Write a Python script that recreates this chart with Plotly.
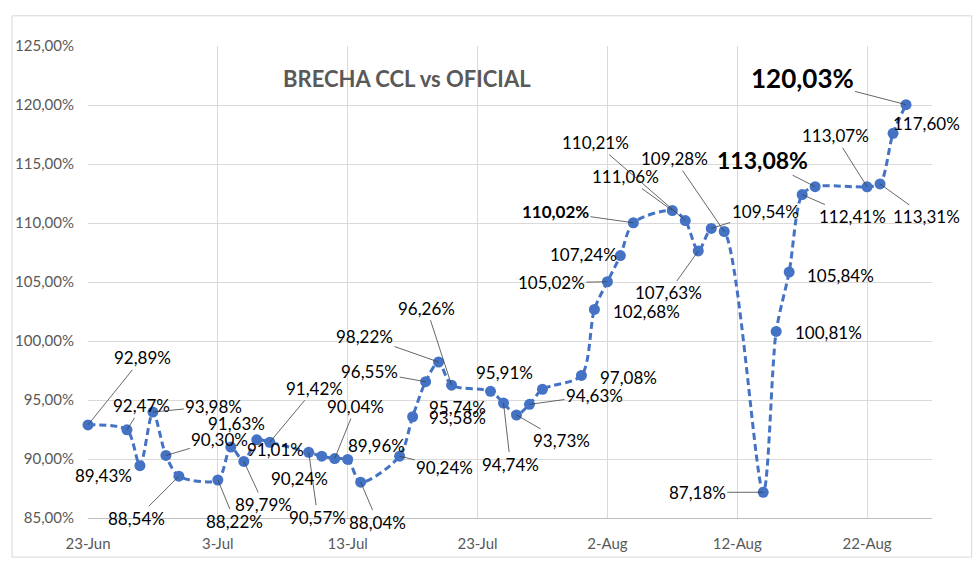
import plotly.graph_objects as go

# Brecha CCL vs oficial (2023), dias habiles
fechas = [
    "2023-06-23", "2023-06-26", "2023-06-27", "2023-06-28", "2023-06-29", "2023-06-30",
    "2023-07-03", "2023-07-04", "2023-07-05", "2023-07-06", "2023-07-07",
    "2023-07-10", "2023-07-11", "2023-07-12", "2023-07-13", "2023-07-14",
    "2023-07-17", "2023-07-18", "2023-07-19", "2023-07-20", "2023-07-21",
    "2023-07-24", "2023-07-25", "2023-07-26", "2023-07-27", "2023-07-28",
    "2023-07-31", "2023-08-01", "2023-08-02", "2023-08-03", "2023-08-04",
    "2023-08-07", "2023-08-08", "2023-08-09", "2023-08-10", "2023-08-11",
    "2023-08-14", "2023-08-15", "2023-08-16", "2023-08-17", "2023-08-18",
    "2023-08-22", "2023-08-23", "2023-08-24", "2023-08-25",
]
brecha = [
    92.89, 92.47, 89.43, 93.98, 90.30, 88.54,
    88.22, 91.01, 89.79, 91.63, 91.42,
    90.57, 90.24, 90.04, 89.96, 88.04,
    90.24, 93.58, 96.55, 98.22, 96.26,
    95.74, 94.74, 93.73, 94.63, 95.91,
    97.08, 102.68, 105.02, 107.24, 110.02,
    111.06, 110.21, 107.63, 109.54, 109.28,
    87.18, 100.81, 105.84, 112.41, 113.08,
    113.07, 113.31, 117.60, 120.03,
]

y_ticks = [85, 90, 95, 100, 105, 110, 115, 120, 125]
y_ticktext = [f"{t:.2f}".replace(".", ",") + "%" for t in y_ticks]

# posicion de cada etiqueta respecto del punto (px) y si lleva linea guia
offsets = [
    (54, -67, 1), (15, -24, 1), (-36, 10, 0), (61, -6, 1), (54, -16, 1), (-42, 42, 1),
    (17, 41, 1), (45, 2, 0), (20, 43, 1), (-20, -16, 0), (45, -54, 1),
    (9, 65, 1), (-22, 22, 0), (21, -52, 1), (29, -14, 0), (17, 40, 1),
    (45, 11, 1), (45, 1, 0), (-56, -10, 1), (-74, -26, 1), (-25, -77, 1),
    (-33, 16, 0), (7, 61, 1), (45, 26, 1), (65, -9, 1), (-38, -17, 0),
    (47, 2, 0), (52, 2, 0), (-56, 1, 1), (-37, -1, 0), (-78, -11, 1),
    (-47, -34, 1), (-90, -78, 1), (-30, 42, 1), (54, -17, 1), (-50, -73, 1),
    (-66, 0, 1), (52, 1, 0), (51, 3, 0), (50, 22, 1), (-53, -27, 1),
    (-32, -51, 1), (46, 33, 1), (33, -10, 0), (-104, -27, 1),
]
# etiquetas destacadas en negrita: indice -> tamano
destacadas = {30: 17, 40: 23, 44: 26}

FONT = "Lato, 'Open Sans', sans-serif"
BLUE = "#4472C4"
GRAY = "#595959"

fig = go.Figure()
fig.add_trace(go.Scatter(
    x=fechas, y=brecha,
    mode="lines+markers",
    line=dict(color=BLUE, width=3, dash="7px,4px", shape="spline", smoothing=0.8),
    marker=dict(color=BLUE, size=11),
    showlegend=False,
    cliponaxis=False,
))

for i, (f, v) in enumerate(zip(fechas, brecha)):
    ax, ay, leader = offsets[i]
    txt = f"{v:.2f}".replace(".", ",") + "%"
    size = 17
    if i in destacadas:
        txt = "<b>" + txt + "</b>"
        size = destacadas[i]
    fig.add_annotation(
        x=f, y=v, text=txt, showarrow=True, ax=ax, ay=ay,
        arrowhead=0, arrowwidth=0.8,
        arrowcolor="#404040" if leader else "rgba(0,0,0,0)",
        font=dict(family=FONT, size=size, color="black"),
    )

fig.add_annotation(
    xref="paper", yref="paper", x=0.378, y=0.932,
    xanchor="center", yanchor="middle",
    text="<b>BRECHA CCL vs OFICIAL</b>", showarrow=False,
    font=dict(family=FONT, size=22, color=GRAY),
)

# marco exterior del grafico
fig.add_shape(
    type="rect", xref="paper", yref="paper",
    x0=-0.090, x1=1.047, y0=-0.083, y1=1.064,
    line=dict(color="#d9d9d9", width=1),
)

fig.update_xaxes(
    type="date",
    range=["2023-06-23", "2023-08-27"],
    tick0="2023-06-23", dtick=10 * 86400000,
    tickformat="%-d-%b",
    showgrid=True, gridcolor="#d9d9d9", gridwidth=1,
    showline=True, linecolor="#bfbfbf", linewidth=1,
    zeroline=False,
    ticklabelstandoff=12,
    tickfont=dict(family=FONT, size=15, color=GRAY),
)
fig.update_yaxes(
    range=[85, 125],
    tickvals=y_ticks, ticktext=y_ticktext,
    showgrid=True, gridcolor="#d9d9d9", gridwidth=1,
    zeroline=False, showline=False,
    ticklabelstandoff=13,
    tickfont=dict(family=FONT, size=15, color=GRAY),
)

fig.update_layout(
    width=980, height=568,
    margin=dict(l=88, r=48, t=46, b=50, autoexpand=False),
    plot_bgcolor="white", paper_bgcolor="white",
)

# sin margen del body para que el grafico quede en (0, 0)
fig.write_html(
    "out.html",
    config={"displayModeBar": False},
    post_script="document.body.style.margin='0px';",
)
